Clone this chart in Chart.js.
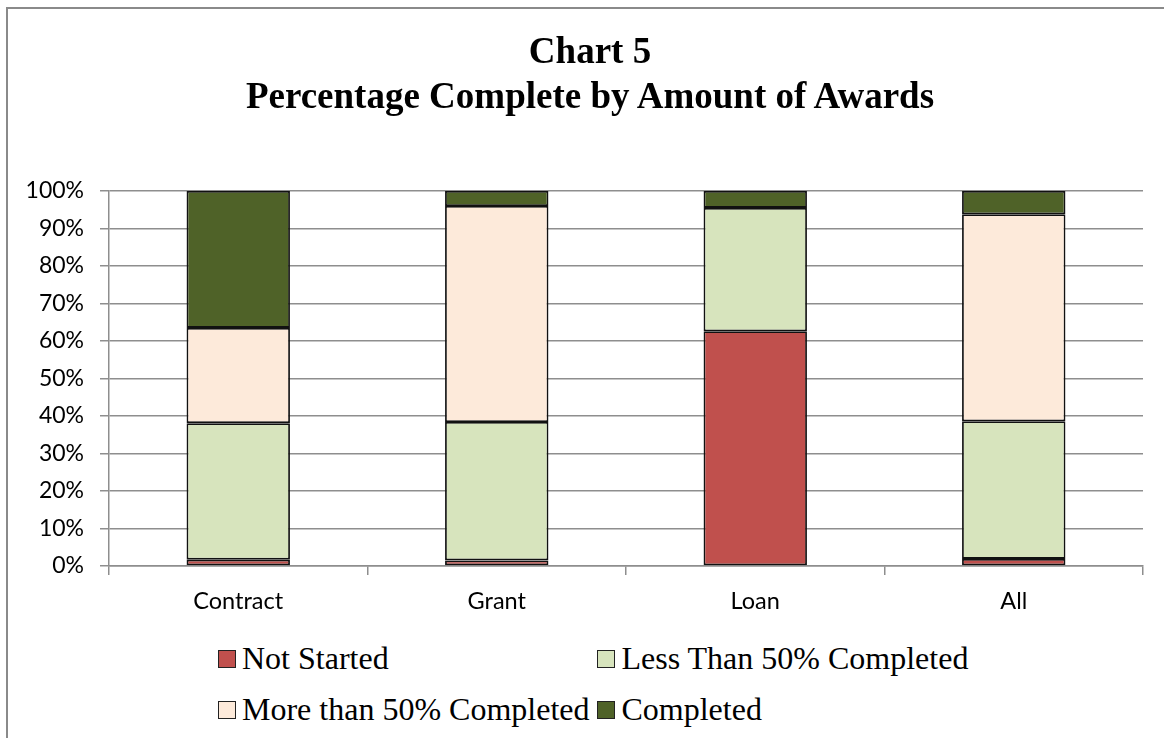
<!DOCTYPE html>
<html>
<head>
<meta charset="utf-8">
<script src="https://cdn.jsdelivr.net/npm/chart.js@4.4.0/dist/chart.umd.min.js"></script>
<style>
  body { margin: 0; background: #fff; overflow: hidden; }
  #frame { position: absolute; left: 6px; top: 7px; width: 1200px; height: 800px;
           border-left: 2px solid #8a8a8a; border-top: 2px solid #8a8a8a; }
  #c { position: absolute; left: 0; top: 0; }
  #title { position: absolute; left: 0; top: 28px; width: 1180px; text-align: center;
           font-family: "Liberation Serif", "Times New Roman", serif; font-weight: bold;
           font-size: 37px; line-height: 45px; color: #000; }
  #legend { position: absolute; left: 218px; top: 640px; display: grid;
            grid-template-columns: auto auto; column-gap: 8px; row-gap: 14px;
            font-family: "Liberation Serif", "Times New Roman", serif; font-size: 32px; color: #000; }
  .item { display: flex; align-items: center; white-space: nowrap; line-height: 37px; }
  .box { width: 16px; height: 16px; border: 1.5px solid #222; margin-right: 6px; }
</style>
</head>
<body>
<div id="frame"></div>
<canvas id="c" width="1164" height="630"></canvas>
<div id="title">Chart 5<br>Percentage Complete by Amount of Awards</div>
<div id="legend"></div>
<script>
const categories = ['Contract', 'Grant', 'Loan', 'All'];
const notStarted = [1.7, 1.5, 62.6, 1.9];
const lessThan50 = [36.4, 36.9, 32.9, 36.7];
const moreThan50 = [25.4, 57.6, 0, 55.2];
const completed = [36.5, 4.0, 4.5, 6.2];
const yTicks = [0, 10, 20, 30, 40, 50, 60, 70, 80, 90, 100];

const seriesNames = ['Not Started', 'Less Than 50% Completed', 'More than 50% Completed', 'Completed'];
const colors = ['#C0504D', '#D7E4BD', '#FDEADA', '#4F6228'];
const values = [notStarted, lessThan50, moreThan50, completed];

const ds = values.map((v, i) => ({
  label: seriesNames[i],
  data: v,
  backgroundColor: colors[i],
  borderColor: '#111',
  borderWidth: 1.8,
  borderSkipped: false,
  barPercentage: 0.4,
  categoryPercentage: 1
}));

const gridCol = '#8e8e8e';
new Chart(document.getElementById('c'), {
  type: 'bar',
  data: { labels: categories, datasets: ds },
  options: {
    responsive: false,
    animation: false,
    devicePixelRatio: 1,
    layout: { padding: { left: 0, right: 21, top: 191, bottom: 0 } },
    plugins: {
      legend: { display: false },
      tooltip: { enabled: false },
      title: { display: false }
    },
    scales: {
      x: {
        stacked: true,
        z: 1, // axis line sits on top of the bar bottoms, as in the original
        grid: { drawOnChartArea: false, drawTicks: true, tickLength: 9, color: gridCol, lineWidth: 1.5 },
        border: { color: gridCol, width: 1.5 },
        ticks: { color: '#000', padding: 12, font: { family: 'Lato', size: 23.5 } },
        afterFit: s => { s.height = 64; }
      },
      y: {
        stacked: true,
        min: 0, max: 100,
        afterBuildTicks: s => { s.ticks = yTicks.map(v => ({ value: v })); },
        grid: { color: gridCol, lineWidth: 1.5, tickLength: 9 },
        border: { color: gridCol, width: 1.5 },
        ticks: { color: '#000', padding: 16, font: { family: 'Lato', size: 23 }, callback: v => v + '%' },
        afterFit: s => { s.width = 109; }
      }
    }
  }
});

const leg = document.getElementById('legend');
seriesNames.forEach((n, i) => {
  const d = document.createElement('div');
  d.className = 'item';
  d.innerHTML = '<span class="box" style="background:' + colors[i] + '"></span>' + n;
  leg.appendChild(d);
});
</script>
</body>
</html>
